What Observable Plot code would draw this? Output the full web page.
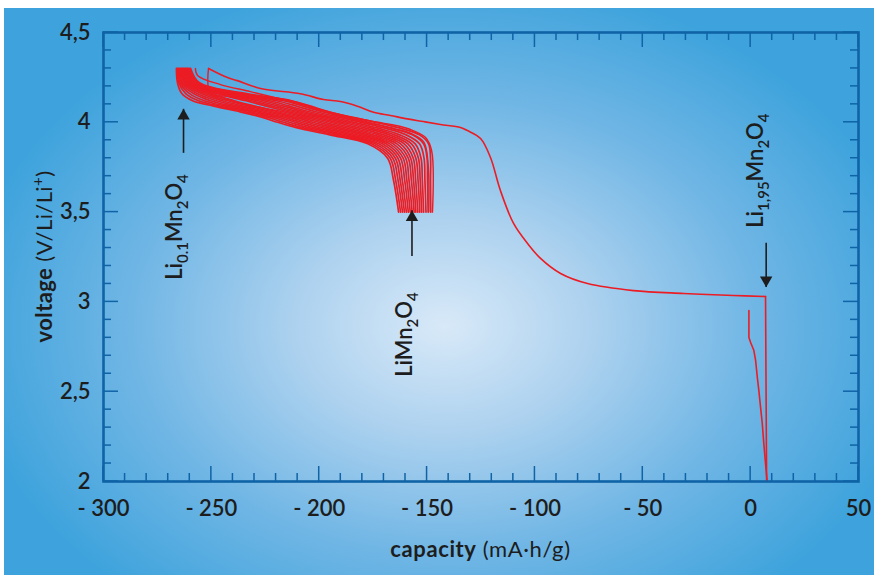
<!DOCTYPE html>
<html>
<head>
<meta charset="utf-8">
<script src="https://cdn.jsdelivr.net/npm/d3@7"></script>
<script src="https://cdn.jsdelivr.net/npm/@observablehq/plot@0.6"></script>
<style>
  html, body { margin: 0; padding: 0; background: #ffffff; }
  #wrap { position: relative; width: 874px; height: 575px; overflow: hidden; }
  #bg { position: absolute; left: 4px; top: 8px; width: 870px; height: 567px;
        background: radial-gradient(ellipse 480px 350px at 440px 318px, #d8e9f8 0%, #aed2ef 30%, #70b6e5 65%, #3ea3dc 100%); }
  #chart { position: absolute; left: 0; top: 0; }
</style>
</head>
<body>
<div id="wrap"><div id="bg"></div><div id="chart"></div></div>
<script>
// ---------- axes ----------
const xTicks = [-300, -250, -200, -150, -100, -50, 0, 50];
const xTickLabels = ["- 300", "- 250", "- 200", "- 150", "- 100", "- 50", "0", "50"];
const yTicks = [2, 2.5, 3, 3.5, 4, 4.5];
const yTickLabels = ["2", "2,5", "3", "3,5", "4", "4,5"];

// ---------- cycling bundle (capacity in mA·h/g at common voltage levels) ----------
const bundleVoltage = [4.30, 4.22, 4.16, 4.12, 4.09, 4.06, 4.03, 4.00, 3.97, 3.93, 3.88, 3.80, 3.68, 3.50];
const cycle01 = [-266.2, -265.7, -263.7, -258.7, -248.8, -237.2, -227.1, -219.3, -210.6, -195.1, -177.5, -168.3, -165.6, -163.2];
const cycle02 = [-265.8, -265.1, -261.9, -255.9, -246.1, -234.7, -224.6, -216.6, -207.8, -192.6, -175.8, -167.1, -164.6, -162.3];
const cycle03 = [-265.4, -264.5, -260.1, -253.2, -243.4, -232.2, -222.1, -213.8, -204.9, -190.1, -174.1, -165.9, -163.5, -161.4];
const cycle04 = [-265.0, -263.9, -258.3, -250.4, -240.7, -229.8, -219.6, -211.1, -202.1, -187.6, -172.4, -164.7, -162.5, -160.5];
const cycle05 = [-264.6, -263.3, -256.5, -247.7, -238.0, -227.3, -217.1, -208.4, -199.3, -185.1, -170.7, -163.5, -161.5, -159.6];
const cycle06 = [-264.2, -262.6, -254.7, -244.9, -235.3, -224.8, -214.6, -205.6, -196.4, -182.6, -169.0, -162.3, -160.4, -158.7];
const cycle07 = [-263.8, -262.0, -252.9, -242.2, -232.6, -222.3, -212.1, -202.9, -193.6, -180.1, -167.3, -161.1, -159.4, -157.8];
const cycle08 = [-263.4, -261.4, -251.1, -239.4, -229.9, -219.9, -209.6, -200.2, -190.8, -177.6, -165.7, -159.9, -158.4, -156.9];
const cycle09 = [-263.0, -260.8, -249.3, -240.5, -231.0, -217.4, -207.1, -197.5, -187.9, -175.1, -164.0, -158.7, -157.3, -156.0];
const cycle10 = [-262.6, -260.2, -247.5, -233.9, -224.6, -214.9, -204.6, -194.7, -185.1, -172.6, -162.3, -157.6, -156.3, -155.2];
const cycle11 = [-262.2, -259.6, -245.7, -231.2, -221.9, -212.4, -202.1, -192.0, -182.3, -170.1, -160.6, -156.4, -155.3, -154.3];
const cycle12 = [-261.8, -259.0, -243.9, -228.4, -219.2, -209.9, -199.6, -189.3, -179.4, -167.6, -158.9, -155.2, -154.2, -153.4];
const cycle13 = [-261.4, -258.4, -242.1, -225.7, -216.5, -207.5, -197.1, -186.5, -176.6, -165.1, -157.2, -154.0, -153.2, -152.5];
const cycle14 = [-261.1, -257.7, -240.3, -222.9, -213.8, -205.0, -194.6, -183.8, -173.8, -162.7, -155.5, -152.8, -152.2, -151.6];
const cycle15 = [-260.6, -257.0, -238.2, -219.7, -210.6, -202.1, -191.7, -180.6, -170.5, -159.7, -153.5, -151.4, -151.0, -150.5];
const cycle16 = [-260.1, -256.3, -236.1, -216.5, -207.5, -199.2, -188.7, -177.4, -167.2, -156.8, -151.6, -150.0, -149.8, -149.5];
const cycle17 = [-259.6, -255.5, -233.7, -212.8, -203.9, -195.9, -185.4, -173.8, -163.4, -153.5, -149.3, -148.4, -148.4, -148.3];

// first cycles (start with a step at 4.3 V)
const cycleACapacity = [-257.4, -256.4, -245.8, -231.9, -213.3, -198.0, -182.3, -166.9, -157.7, -150.7, -147.9, -147.5];
const cycleAVoltage  = [4.300, 4.261, 4.210, 4.171, 4.116, 4.066, 4.021, 3.988, 3.960, 3.915, 3.843, 3.500];
const cycleBCapacity = [-251.3, -250.4, -238.0, -222.6, -210.0, -200.0, -190.0, -178.0, -166.0, -157.0, -151.5, -149.6, -149.2];
const cycleBVoltage  = [4.300, 4.160, 4.149, 4.140, 4.110, 4.070, 4.035, 4.000, 3.965, 3.935, 3.890, 3.780, 3.500];

// long discharge down to Li1.95Mn2O4 (smooth part, then the vertical drop)
const longCapacity = [-251.3, -242.5, -237.9, -227.2, -208.7, -198.0, -190.1, -182.3, -174.8, -167.0, -159.1, -151.7, -143.8, -134.5, -131.3, -125.2, -120.6, -116.0, -109.9, -103.4, -97.4, -88.1, -75.6, -54.3, -31.1, -7.9, 6.9];
const longVoltage  = [4.300, 4.249, 4.232, 4.188, 4.159, 4.127, 4.116, 4.090, 4.056, 4.038, 4.019, 4.004, 3.988, 3.971, 3.954, 3.910, 3.804, 3.620, 3.437, 3.325, 3.242, 3.158, 3.102, 3.063, 3.047, 3.036, 3.030];
const dropCapacity = [6.9, 7.4];
const dropVoltage  = [3.030, 2.000];

// initial discharge near 0
const firstCapacity = [-0.8, -0.8, 0.0, 1.5, 2.3, 3.1, 3.8, 4.6, 5.4, 6.1, 6.9, 7.6];
const firstVoltage  = [2.952, 2.802, 2.774, 2.729, 2.674, 2.579, 2.507, 2.413, 2.323, 2.212, 2.100, 2.006];

// annotations
const arrowCapacity = [-262.9, -157.0, 7.2];
const arrowFromV = [3.83, 3.255, 3.33];
const arrowToV = [4.075, 3.51, 3.083];
const arrowDir = ["up", "up", "down"];
const labelCapacity = [-263.4, -156.8, 6.0];
const labelVoltage = [3.12, 2.58, 3.41];
const labelParts = [
  [["Li", 0], ["0.1", 1], ["Mn", 0], ["2", 1], ["O", 0], ["4", 1]],
  [["LiMn", 0], ["2", 1], ["O", 0], ["4", 1]],
  [["Li", 0], ["1,95", 1], ["Mn", 0], ["2", 1], ["O", 0], ["4", 1]]
];

// ---------- build ----------
const red = "#ec1c24";
const frameBlue = "#0f63a6";
const ink = "#1d1d1d";
const font = "Lato, 'Open Sans', sans-serif";

const pts = (xs, ys) => xs.map((x, i) => ({x, y: ys[i]}));
const bundle = [cycle01, cycle02, cycle03, cycle04, cycle05, cycle06, cycle07, cycle08, cycle09,
                cycle10, cycle11, cycle12, cycle13, cycle14, cycle15, cycle16, cycle17];

const xLab = new Map(xTicks.map((t, i) => [t, xTickLabels[i]]));
const yLab = new Map(yTicks.map((t, i) => [t, yTickLabels[i]]));
const xMinor = d3.range(-300, 51, 10);
const yMinor = d3.range(20, 46, 1).map(d => d / 10);

const arrows = arrowCapacity.map((x, i) => ({x, y1: arrowFromV[i], y2: arrowToV[i], dir: arrowDir[i]}));

const marks = [];
bundle.forEach(c => marks.push(Plot.line(pts(c, bundleVoltage), {x: "x", y: "y", stroke: red, strokeWidth: 1.7, curve: "catmull-rom"})));
marks.push(Plot.line(pts(cycleACapacity, cycleAVoltage), {x: "x", y: "y", stroke: red, strokeWidth: 1.4, curve: "catmull-rom"}));
marks.push(Plot.line(pts(cycleBCapacity, cycleBVoltage), {x: "x", y: "y", stroke: red, strokeWidth: 1.4, curve: "catmull-rom"}));
marks.push(Plot.line(pts(firstCapacity, firstVoltage), {x: "x", y: "y", stroke: red, strokeWidth: 1.6}));
marks.push(Plot.line(pts(longCapacity, longVoltage), {x: "x", y: "y", stroke: red, strokeWidth: 1.6, curve: "catmull-rom"}));
marks.push(Plot.line(pts(dropCapacity, dropVoltage), {x: "x", y: "y", stroke: red, strokeWidth: 1.6}));

// arrows
marks.push(Plot.link(arrows, {x1: "x", x2: "x", y1: "y1", y2: "y2", stroke: ink, strokeWidth: 1.6}));
marks.push(Plot.dot(arrows.filter(d => d.dir === "up"), {x: "x", y: "y2", symbol: "triangle", r: 4.6, fill: ink, stroke: null, dy: 7}));
marks.push(Plot.dot(arrows.filter(d => d.dir === "down"), {x: "x", y: "y2", symbol: "triangle", r: 4.6, fill: ink, stroke: null, rotate: 180, dy: -7}));

// tick labels
marks.push(Plot.axisY(yTicks, {anchor: "left", tickSize: 0, tickPadding: 13, tickFormat: d => yLab.get(d), fontSize: 22, fontWeight: 600, fill: ink, label: null}));
marks.push(Plot.axisX(xTicks, {anchor: "bottom", tickSize: 0, tickPadding: 19, tickFormat: d => xLab.get(d), fontSize: 22, fontWeight: 600, fill: ink, label: null}));
marks.push(Plot.frame({stroke: frameBlue, strokeWidth: 2.6}));

const chart = Plot.plot({
  width: 874,
  height: 575,
  marginLeft: 103,
  marginRight: 16,
  marginTop: 32,
  marginBottom: 94,
  x: {domain: [-300, 50]},
  y: {domain: [2, 4.5]},
  style: {background: "transparent", fontFamily: font, overflow: "visible"},
  marks
});
document.getElementById("chart").appendChild(chart);

const sx = chart.scale("x"), sy = chart.scale("y");
const svg = d3.select(chart);

// ---------- inside ticks on all four sides (positions from Plot's scales) ----------
const [x0, x1] = sx.range, [y0, y1] = sy.range; // y0 bottom, y1 top
const tg = svg.append("g").attr("stroke", frameBlue).attr("stroke-width", 1.5);
const isMajorX = v => xTicks.includes(v);
const isMajorY = v => yTicks.some(t => Math.abs(t - v) < 1e-9);
xMinor.forEach(v => {
  const px = sx.apply(v), L = isMajorX(v) ? 15 : 8;
  tg.append("line").attr("x1", px).attr("x2", px).attr("y1", y0).attr("y2", y0 - L);
  tg.append("line").attr("x1", px).attr("x2", px).attr("y1", y1).attr("y2", y1 + L);
});
yMinor.forEach(v => {
  const py = sy.apply(v), L = isMajorY(v) ? 15 : 8;
  tg.append("line").attr("y1", py).attr("y2", py).attr("x1", x0).attr("x2", x0 + L);
  tg.append("line").attr("y1", py).attr("y2", py).attr("x1", x1).attr("x2", x1 - L);
});

// ---------- rotated chemical labels & axis titles ----------
const g = svg.append("g").attr("font-family", font).attr("fill", ink).attr("text-anchor", "start");
labelParts.forEach((parts, i) => {
  const px = sx.apply(labelCapacity[i]), py = sy.apply(labelVoltage[i]);
  const t = g.append("text")
    .attr("text-anchor", "start")
    .attr("transform", `translate(${px},${py}) rotate(-90)`)
    .attr("font-size", 22).attr("font-weight", 600);
  let shifted = false;
  parts.forEach(([s, sub]) => {
    const ts = t.append("tspan").text(s);
    if (sub && !shifted) { ts.attr("dy", 6).attr("font-size", 15); shifted = true; }
    else if (sub) { ts.attr("font-size", 15); }
    else if (!sub && shifted) { ts.attr("dy", -6); shifted = false; }
  });
});

// axis titles
const yt = g.append("text")
  .attr("transform", `translate(52,${(y0 + y1) / 2}) rotate(-90)`)
  .attr("text-anchor", "middle").attr("font-size", 22).attr("letter-spacing", 0.4);
yt.append("tspan").attr("font-weight", 700).text("voltage");
yt.append("tspan").attr("font-weight", 400).text(" (V/Li/Li");
yt.append("tspan").attr("font-weight", 400).attr("font-size", 15).attr("dy", -9).text("+");
yt.append("tspan").attr("font-weight", 400).attr("dy", 9).text(")");

const xt = g.append("text")
  .attr("transform", `translate(${(x0 + x1) / 2},557)`)
  .attr("text-anchor", "middle").attr("font-size", 22).attr("letter-spacing", 0.6);
xt.append("tspan").attr("font-weight", 700).text("capacity");
xt.append("tspan").attr("font-weight", 400).text(" (mA·h/g)");
</script>
</body>
</html>
